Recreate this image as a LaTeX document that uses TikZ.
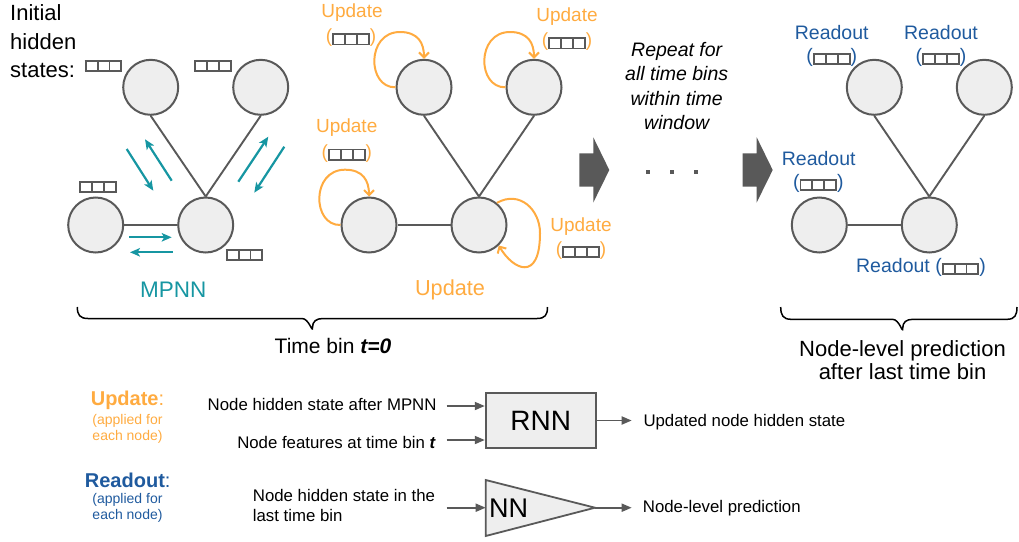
\documentclass[tikz,border=0pt]{standalone}
\usepackage{fontspec}
\setmainfont{Liberation Sans}
\usetikzlibrary{arrows.meta}

\definecolor{edgegray}{HTML}{595959}
\definecolor{nodefill}{HTML}{EEEEEE}
\definecolor{mpteal}{HTML}{1696A2}
\definecolor{updorange}{HTML}{FFAB40}
\definecolor{roblue}{HTML}{1F5A9E}

% three-cell hidden-state vector
\newcommand\hstate{{\color{edgegray}\setlength{\fboxsep}{0pt}\setlength{\fboxrule}{1.9pt}\raisebox{-0.6pt}{\fbox{\rule{0pt}{8.4pt}\hspace{10pt}\vrule width 1.9pt\hspace{10pt}\vrule width 1.9pt\hspace{10pt}}}}}
\newcommand\fs[2]{\fontsize{#1}{#2}\selectfont}

\begin{document}
\begin{tikzpicture}[x=1pt,y=-1pt,
  gnode/.style={circle, draw=edgegray, fill=nodefill, line width=2pt, minimum size=55pt, inner sep=0pt},
  gedge/.style={draw=edgegray, line width=1.9pt},
  msg/.style={draw=mpteal, line width=2.2pt, -{Stealth[length=10pt,width=8.5pt,inset=2.5pt]}},
  selfupd/.style={draw=updorange, line width=2pt, -{Straight Barb[length=5pt,width=10pt,line width=2pt]}},
  stbox/.style={inner sep=0pt},
  updlbl/.style={text=updorange, font=\fs{19}{23}, inner sep=0pt},
  rolbl/.style={text=roblue, font=\fs{19.5}{23}, inner sep=0pt},
  chevron/.style={fill=edgegray},
  brace/.style={draw=black, line width=1.5pt},
  legarrow/.style={draw=edgegray, line width=1.8pt, -{Triangle[length=10pt,width=8pt]}},
  legtext/.style={font=\fs{16.8}{20}, inner sep=0pt},
  smalltext/.style={font=\fs{14}{16}, inner sep=0pt, align=center}
]
\useasboundingbox (0,0) rectangle (1019,541);

% ---------- graph 1: message passing ----------
\node[gnode] (a1) at (150.7,87.3) {};
\node[gnode] (a2) at (260.7,87.3) {};
\node[gnode] (a3) at (95.7,225) {};
\node[gnode] (a4) at (205.7,225) {};
\draw[gedge] (a1.south) -- (a4.north);
\draw[gedge] (a2.south) -- (a4.north);
\draw[gedge] (a3) -- (a4);

\node[anchor=north west, align=left, inner sep=0pt, font=\fs{22}{28.3}] (init) at (10,4.7) {Initial\\hidden\\states:};
\node[stbox] (h1) at (103.5,66) {\hstate};
\node[stbox] (h2) at (213,66) {\hstate};
\node[stbox] (h3) at (98,187) {\hstate};
\node[stbox] (h4) at (244.5,255) {\hstate};

\coordinate (m1s) at (126.7,149);   \coordinate (m1e) at (153.3,190.7);
\coordinate (m2s) at (171.7,180.7); \coordinate (m2e) at (145,139.3);
\coordinate (m3s) at (238.3,181.7); \coordinate (m3e) at (268.3,136.7);
\coordinate (m4s) at (284.3,146.7); \coordinate (m4e) at (254.3,192.7);
\coordinate (m5s) at (129,237.3);   \coordinate (m5e) at (171.7,237.3);
\coordinate (m6s) at (172.7,252.3); \coordinate (m6e) at (130,252.3);
\foreach \k in {1,...,6} \draw[msg] (m\k s) -- (m\k e);

\node[text=mpteal, font=\fs{22.5}{26}, inner sep=0pt] (mpnn) at (173.3,290) {MPNN};

% ---------- graph 2: node update ----------
\node[gnode] (b1) at (424,87.3) {};
\node[gnode] (b2) at (534,87.3) {};
\node[gnode] (b3) at (369,225) {};
\node[gnode] (b4) at (479,225) {};
\draw[gedge] (b1.south) -- (b4.north);
\draw[gedge] (b2.south) -- (b4.north);
\draw[gedge] (b3) -- (b4);

\foreach \n in {b1,b2,b3}
  \draw[selfupd] (\n.west) .. controls +(-28.5,0.7) and +(-34,0) .. ([shift={(-24,-55.3)}]\n.center)
                 .. controls +(18,0) and +(0,-15.8) .. (\n.north);
\draw[selfupd] (b4.51) .. controls +(23,-13) and +(0,-23) .. ([shift={(61,8)}]b4.center)
               .. controls +(0,50) and +(14,24) .. (b4.-46);

\node[updlbl] (u1) at (352,13) {Update};
\node[updlbl] (u1b) at (351,38) {(\hstate)};
\node[updlbl] (u2) at (567,16.5) {Update};
\node[updlbl] (u2b) at (567,42) {(\hstate)};
\node[updlbl] (u3) at (346.7,128) {Update};
\node[updlbl] (u3b) at (346.7,153.3) {(\hstate)};
\node[updlbl] (u4) at (581,226.7) {Update};
\node[updlbl] (u4b) at (581,250.7) {(\hstate)};

\node[text=updorange, font=\fs{21.7}{26}, inner sep=0pt] (upd) at (450,290) {Update};

% ---------- repeat ----------
\fill[chevron] (579.3,153.3) -- (593.3,153.3) -- (593.3,137.3) -- (609.3,170) -- (593.3,202.5) -- (593.3,186.7) -- (579.3,186.7) -- cycle;
\fill[chevron] (742.7,153.3) -- (756.7,153.3) -- (756.7,137.3) -- (772.7,170) -- (756.7,202.5) -- (756.7,186.7) -- (742.7,186.7) -- cycle;
\foreach \x in {648.3,672.3,695.7} \fill[edgegray] (\x-2,169.7) rectangle +(4,4);

\node[align=center, inner sep=0pt, font=\fs{19.5}{24.2}\itshape] (rep) at (676.7,86) {Repeat for\\all time bins\\within time\\window};

% ---------- graph 3: readout ----------
\node[gnode] (c1) at (874.3,87.3) {};
\node[gnode] (c2) at (984.3,87.3) {};
\node[gnode] (c3) at (819.3,225) {};
\node[gnode] (c4) at (929.3,225) {};
\draw[gedge] (c1.south) -- (c4.north);
\draw[gedge] (c2.south) -- (c4.north);
\draw[gedge] (c3) -- (c4);

\node[rolbl] (r1) at (831.7,32.3) {Readout};
\node[rolbl] (r1b) at (831.7,57.3) {(\hstate)};
\node[rolbl] (r2) at (941,32.3) {Readout};
\node[rolbl] (r2b) at (941,57.3) {(\hstate)};
\node[rolbl] (r3) at (818.7,158.3) {Readout};
\node[rolbl] (r3b) at (818.3,183.3) {(\hstate)};
\node[rolbl] (r4) at (921,267.7) {Readout (\hstate)};

% ---------- braces ----------
\coordinate (br1l) at (77.3,307);  \coordinate (br1m) at (312.5,327.5); \coordinate (br1r) at (547.5,307);
\draw[brace] (br1l) .. controls +(0,8) and +(-8,0) .. (88,318.5) -- (302,318.5)
  .. controls +(7,0) and +(0,6) .. (br1m) .. controls +(0,-6) and +(-7,0) .. (323,318.5)
  -- (537,318.5) .. controls +(8,0) and +(0,8) .. (br1r);
\node[font=\fs{21}{25}, inner sep=0pt] (tb) at (333,346) {Time bin \textbf{\textit{t=0}}};

\coordinate (br2l) at (780.7,307); \coordinate (br2m) at (902.7,328.3); \coordinate (br2r) at (1017,307);
\draw[brace] (br2l) .. controls +(0,8) and +(-8,0) .. (791,319.3) -- (892.5,319.3)
  .. controls +(7,0) and +(0,6) .. (br2m) .. controls +(0,-6) and +(-7,0) .. (913,319.3)
  -- (1007,319.3) .. controls +(8,0) and +(0,8) .. (br2r);
\node[align=center, font=\fs{22}{23.4}, inner sep=0pt] (nlp) at (902.5,360) {Node-level prediction\\after last time bin};

% ---------- legend ----------
\node[text=updorange, font=\fs{20}{24}, inner sep=0pt] (lu) at (127.5,400) {\textbf{Update}:};
\node[smalltext, text=updorange] (lu2) at (127.5,428.7) {(applied for\\each node)};
\node[text=roblue, font=\fs{20}{24}, inner sep=0pt] (lr) at (127.7,480) {\textbf{Readout}:};
\node[smalltext, text=roblue] (lr2) at (127.5,508.3) {(applied for\\each node)};

\node[draw=edgegray, fill=nodefill, line width=1.8pt, minimum width=110pt, minimum height=55.6pt, inner sep=0pt, font=\fs{28}{30}] (rnn) at (540.7,420.5) {RNN};
\coordinate (in1) at (446.7,406);
\coordinate (in2) at (446.7,440);
\coordinate (out1) at (631.7,420.5);
\draw[legarrow] (in1) -- (in1 -| rnn.west);
\draw[legarrow] (in2) -- (in2 -| rnn.west);
\draw[legarrow] (rnn.east) -- (out1);
\node[legtext, anchor=east] (t1) at (436.7,404) {Node hidden state after MPNN};
\node[legtext, anchor=east] (t2) at (436,442.3) {Node features at time bin \textbf{\textit{t}}};
\node[legtext, anchor=west] (t3) at (643.3,421.7) {Updated node hidden state};

\coordinate (nnA) at (485.7,480);
\coordinate (nnB) at (485.7,536);
\coordinate (nnTip) at (595,507.7);
\coordinate (nnIn) at (485.7,507.7);
\filldraw[draw=edgegray, fill=nodefill, line width=1.8pt, line join=miter] (nnA) -- (nnTip) -- (nnB) -- cycle;
\node[anchor=west, inner sep=0pt, font=\fs{27}{30}] (nn) at (489,508) {NN};
\coordinate (in3) at (446.7,507.7);
\coordinate (out2) at (631.7,507.7);
\draw[legarrow] (in3) -- (nnIn);
\draw[legarrow] (nnTip) -- (out2);
\node[legtext, anchor=west, align=left] (t4) at (252.7,505) {Node hidden state in the\\last time bin};
\node[legtext, anchor=west] (t5) at (642.7,507.7) {Node-level prediction};
\end{tikzpicture}
\end{document}
